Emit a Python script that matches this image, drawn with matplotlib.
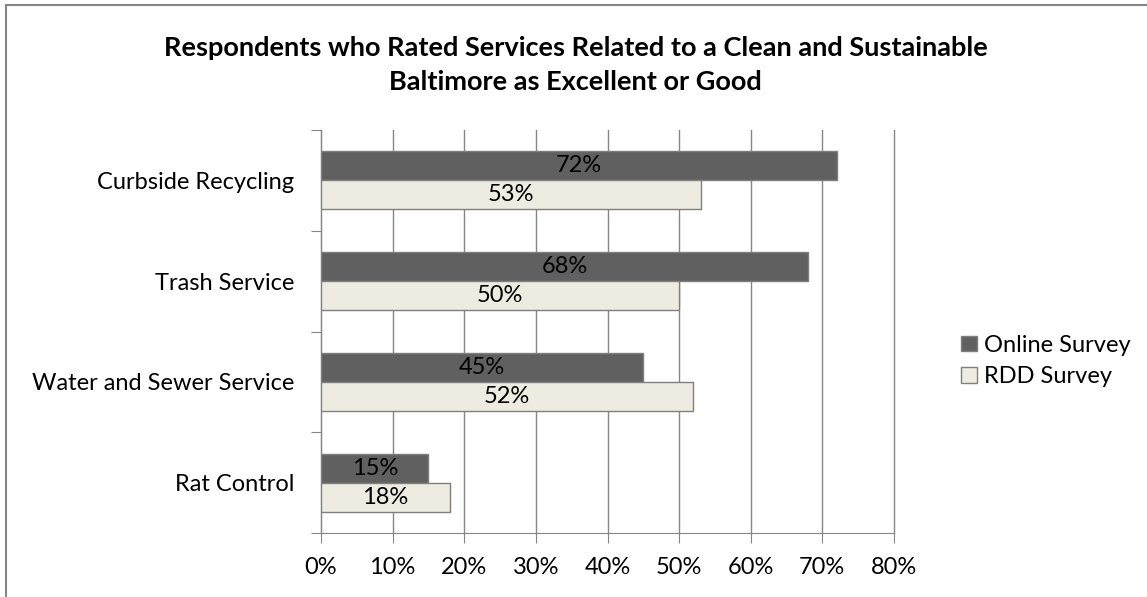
import numpy as np
import matplotlib.pyplot as plt
from matplotlib.patches import Rectangle

plt.rcParams['font.family'] = ['Lato', 'DejaVu Sans']

# Survey results (% rated excellent or good)
services = ["Curbside Recycling", "Trash Service", "Water and Sewer Service", "Rat Control"]
online = [72, 68, 45, 15]
rdd = [53, 50, 52, 18]
x_ticks = [0, 10, 20, 30, 40, 50, 60, 70, 80]

fs = 17

fig = plt.figure(figsize=(11.47, 5.97), dpi=100)
ax = fig.add_axes([321 / 1147, 1 - 533 / 597, (894 - 321) / 1147, (533 - 130) / 597])

pos = np.arange(len(services))[::-1] + 0.5
h = 0.287
ax.barh(pos + h / 2, online, height=h, color="#606060", edgecolor="#7f7f7f",
        linewidth=1, label="Online Survey", zorder=3)
ax.barh(pos - h / 2, rdd, height=h, color="#EEECE1", edgecolor="#7f7f7f",
        linewidth=1, label="RDD Survey", zorder=3)

for p, v in zip(pos, online):
    ax.text(v / 2, p + h / 2, f"{v}%", ha="center", va="center", fontsize=fs, zorder=4)
for p, v in zip(pos, rdd):
    ax.text(v / 2, p - h / 2, f"{v}%", ha="center", va="center", fontsize=fs, zorder=4)

ax.set_xlim(0, 80)
ax.set_ylim(0, 4)
ax.set_xticks(x_ticks)
ax.set_xticklabels([f"{t}%" for t in x_ticks], fontsize=fs)
ax.set_yticks(range(5))
ax.set_yticklabels([])
ax.set_yticks(pos, minor=True)
ax.set_yticklabels(services, minor=True, fontsize=fs)
ax.tick_params(axis="y", which="minor", length=0, pad=19)
ax.tick_params(axis="y", which="major", length=7, color="#868686")
ax.tick_params(axis="x", length=7, color="#868686", pad=10)
ax.grid(axis="x", color="#868686", linewidth=1, zorder=0)
for line in ax.get_xgridlines():
    line.set_clip_on(False)
for s in ["top", "right"]:
    ax.spines[s].set_visible(False)
for s in ["left", "bottom"]:
    ax.spines[s].set_color("#868686")

fig.text(0.502, 1 - 65 / 597,
         "Respondents who Rated Services Related to a Clean and Sustainable\nBaltimore as Excellent or Good",
         ha="center", va="center", fontsize=19.5, fontweight="bold", linespacing=1.45)

fig.legend(loc="center left", bbox_to_anchor=(940 / 1147, 1 - 361 / 597), frameon=False,
           fontsize=fs, handlelength=0.65, handleheight=0.65, handletextpad=0.3,
           labelspacing=0.45)

# chart border
fig.patches.append(Rectangle((6 / 1147, -0.1), 1.2, 1 - 5 / 597 + 0.1, transform=fig.transFigure,
                             fill=False, edgecolor="#868686", linewidth=1.5))

fig.savefig("out.png", dpi=100)
